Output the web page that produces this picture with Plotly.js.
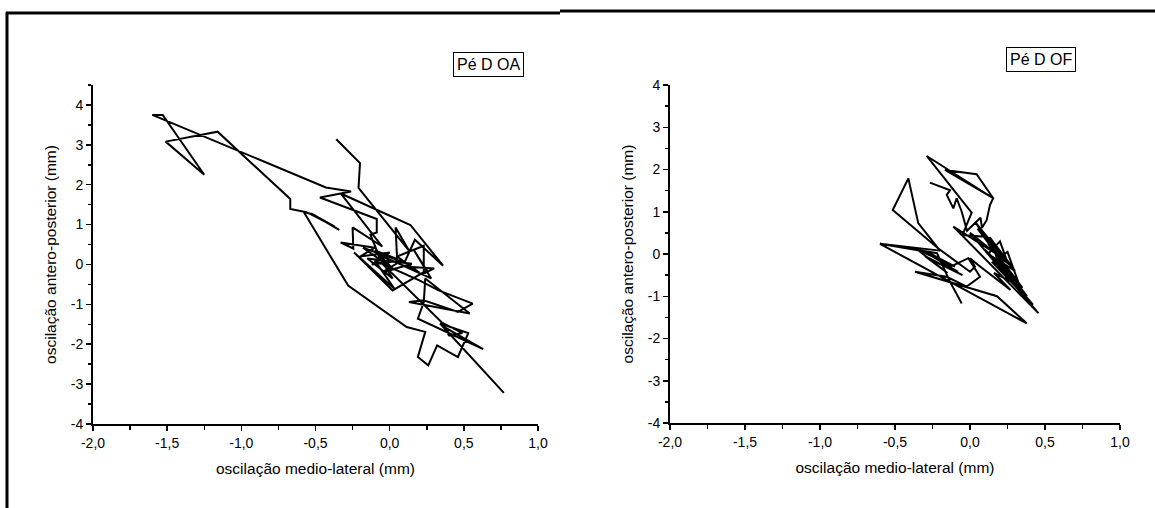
<!DOCTYPE html>
<html>
<head>
<meta charset="utf-8">
<script src="https://cdn.plot.ly/plotly-3.0.1.min.js"></script>
<style>html,body{margin:0;padding:0;background:#fff;}#chart{width:1155px;height:508px;}</style>
</head>
<body>
<div id="chart"></div>
<script>
// ---- data ----
var oaX = [-0.36,-0.20,-0.21,0.13,0.04,0.05,-0.10,0.02,-0.18,0.10,0.17,0.36,0.14,-0.33,-0.05,-0.25,-0.245,-0.33,-0.10,-0.20,0.00,-0.12,0.08,-0.05,0.15,-0.15,0.02,-0.08,0.20,0.05,0.23,0.23,0.30,0.10,0.28,0.16,0.25,0.02,-0.24,0.03,-0.10,0.20,0.33,0.56,0.46,0.23,0.13,0.54,0.24,0.23,0.19,0.63,0.36,0.40,0.49,0.35,-0.05,-0.13,-0.087,-0.087,-0.47,-0.26,-0.43,-1.60,-1.53,-1.25,-1.51,-1.16,-0.67,-0.67,-0.56,-0.37,-0.53,-0.34,-0.51,-0.58,-0.28,0.115,0.24,0.19,0.26,0.32,0.46,0.53,0.34,0.77];
var oaY = [3.14,2.54,1.92,0.35,0.93,0.14,0.35,-0.10,0.42,0.05,0.62,-0.03,0.99,1.78,0.45,0.93,0.40,0.55,0.42,0.20,0.30,0.00,0.10,-0.20,0.02,0.15,-0.35,0.25,-0.20,0.20,0.47,-0.23,-0.10,-0.05,-0.35,0.38,-0.15,-0.65,0.30,-0.60,0.10,-0.40,-0.65,-0.98,-1.19,-0.90,-0.94,-1.23,-0.35,-0.95,-1.36,-2.12,-1.55,-1.78,-1.72,-1.45,0.02,0.75,0.80,1.14,1.68,1.83,1.93,3.75,3.75,2.25,3.08,3.33,1.64,1.39,1.31,0.95,1.28,0.87,1.24,1.32,-0.53,-1.57,-1.69,-2.32,-2.53,-2.03,-2.32,-1.72,-1.48,-3.22];

var ofX = [-0.267,-0.133,-0.155,-0.111,-0.089,-0.055,-0.02,0.07,0.08,0.111,0.133,0.155,-0.167,0.044,0.155,-0.289,0.011,-0.05,
  0.10,0.04,0.30,0.12,0.20,0.25,0.05,0.35,0.18,0.13,0.28,0.00,0.456,-0.111,0.20,0.12,0.38,0.22,0.30,0.10,0.42,0.15,0.25,0.33,0.16,0.27,0.05,0.00,0.033,0.00,
  -0.211,-0.515,-0.411,-0.345,-0.20,-0.600,-0.289,-0.10,-0.35,-0.15,-0.30,-0.05,-0.25,-0.08,-0.28,-0.13,-0.011,0.067,-0.022,-0.155,-0.367,0.18,0.378,-0.600,-0.22,-0.133,-0.055];
var ofY = [1.69,1.51,1.40,1.08,1.32,1.00,0.55,0.86,0.62,0.80,1.16,1.32,1.99,1.89,1.32,2.32,0.98,0.45,
  0.41,0.73,-0.40,0.00,0.30,-0.20,0.60,-0.80,-0.10,0.40,-0.30,0.50,-1.40,0.65,-0.05,0.25,-1.00,-0.35,-0.60,0.10,-1.20,-0.20,0.05,-0.75,-0.45,-0.85,-0.25,-0.10,-0.30,-0.42,
  0.13,1.04,1.79,0.73,0.08,0.24,0.055,-0.30,0.10,-0.45,-0.05,-0.50,-0.15,-0.42,0.00,-0.30,-0.10,-0.54,-0.77,-0.54,-0.42,-1.00,-1.64,0.24,0.02,-0.66,-1.17];

var xTickVals = [-2.0,-1.5,-1.0,-0.5,0.0,0.5,1.0];
var xTickText = ["-2,0","-1,5","-1,0","-0,5","0,0","0,5","1,0"];
var yTickVals = [-4,-3,-2,-1,0,1,2,3,4];
var yTickText = ["-4","-3","-2","-1","0","1","2","3","4"];
var xTitle = "oscilação medio-lateral (mm)";
var yTitle = "oscilação antero-posterior (mm)";
var labelOA = "Pé D OA";
var labelOF = "Pé D OF";

// ---- layout helpers ----
var W = 1155, H = 508;
function px(x){ return x / W; }
function py(y){ return 1 - y / H; }
var FONT = "Liberation Sans, Arial, sans-serif";

function xaxisCfg(dom, anchor){
  return {
    domain: dom, anchor: anchor, range: [-2, 1],
    tickmode: 'array', tickvals: xTickVals, ticktext: xTickText,
    ticks: 'outside', ticklen: 5, tickwidth: 1.5, tickcolor: '#000',
    minor: {tickmode: 'linear', tick0: -2, dtick: 0.25, ticks: 'outside', ticklen: 4, tickwidth: 1.5, tickcolor: '#000'},
    showline: true, linewidth: 2, linecolor: '#000', showgrid: false, zeroline: false,
    tickfont: {family: FONT, size: 14, color: '#000'},
    title: {text: xTitle, font: {family: FONT, size: 15.5, color: '#000'}, standoff: 13},
    automargin: false, fixedrange: true
  };
}
function yaxisCfg(dom, anchor, rng){
  return {
    domain: dom, anchor: anchor, range: rng,
    tickmode: 'array', tickvals: yTickVals, ticktext: yTickText,
    ticks: 'outside', ticklen: 5, tickwidth: 1.5, tickcolor: '#000',
    minor: {tickmode: 'linear', tick0: -4, dtick: 0.5, ticks: 'outside', ticklen: 3, tickwidth: 1.5, tickcolor: '#000'},
    showline: true, linewidth: 2, linecolor: '#000', showgrid: false, zeroline: false,
    tickfont: {family: FONT, size: 14, color: '#000'},
    title: {text: yTitle, font: {family: FONT, size: 15.5, color: '#000'}, standoff: 10},
    automargin: false, fixedrange: true
  };
}

var traces = [
  {x: oaX, y: oaY, xaxis: 'x', yaxis: 'y', mode: 'lines', line: {color: '#000', width: 2}, hoverinfo: 'skip'},
  {x: ofX, y: ofY, xaxis: 'x2', yaxis: 'y2', mode: 'lines', line: {color: '#000', width: 2}, hoverinfo: 'skip'}
];

var layout = {
  width: W, height: H,
  margin: {l: 0, r: 0, t: 0, b: 0},
  paper_bgcolor: '#fff', plot_bgcolor: '#fff',
  showlegend: false,
  font: {family: FONT, color: '#000'},
  xaxis: xaxisCfg([px(93), px(538)], 'y'),
  yaxis: yaxisCfg([py(424), py(85)], 'x', [-4, 4.5]),
  xaxis2: xaxisCfg([px(670), px(1120)], 'y2'),
  yaxis2: yaxisCfg([py(423), py(85)], 'x2', [-4, 4]),
  annotations: [
    {xref: 'paper', yref: 'paper', x: px(489), y: py(64), xanchor: 'center', yanchor: 'middle',
     text: labelOA, showarrow: false, font: {family: FONT, size: 16, color: '#000'},
     bordercolor: '#000', borderwidth: 1, borderpad: 3, bgcolor: '#fff'},
    {xref: 'paper', yref: 'paper', x: px(1041), y: py(59), xanchor: 'center', yanchor: 'middle',
     text: labelOF, showarrow: false, font: {family: FONT, size: 16, color: '#000'},
     bordercolor: '#000', borderwidth: 1, borderpad: 3, bgcolor: '#fff'}
  ],
  shapes: [
    {type: 'line', xref: 'paper', yref: 'paper', x0: px(7), x1: px(7), y0: py(12), y1: 0, line: {color: '#000', width: 3}},
    {type: 'line', xref: 'paper', yref: 'paper', x0: px(6), x1: px(560), y0: py(13), y1: py(13), line: {color: '#000', width: 3}},
    {type: 'line', xref: 'paper', yref: 'paper', x0: px(560), x1: 1, y0: py(11), y1: py(11), line: {color: '#000', width: 3}}
  ]
};

Plotly.newPlot('chart', traces, layout, {staticPlot: true, displayModeBar: false});
</script>
</body>
</html>
